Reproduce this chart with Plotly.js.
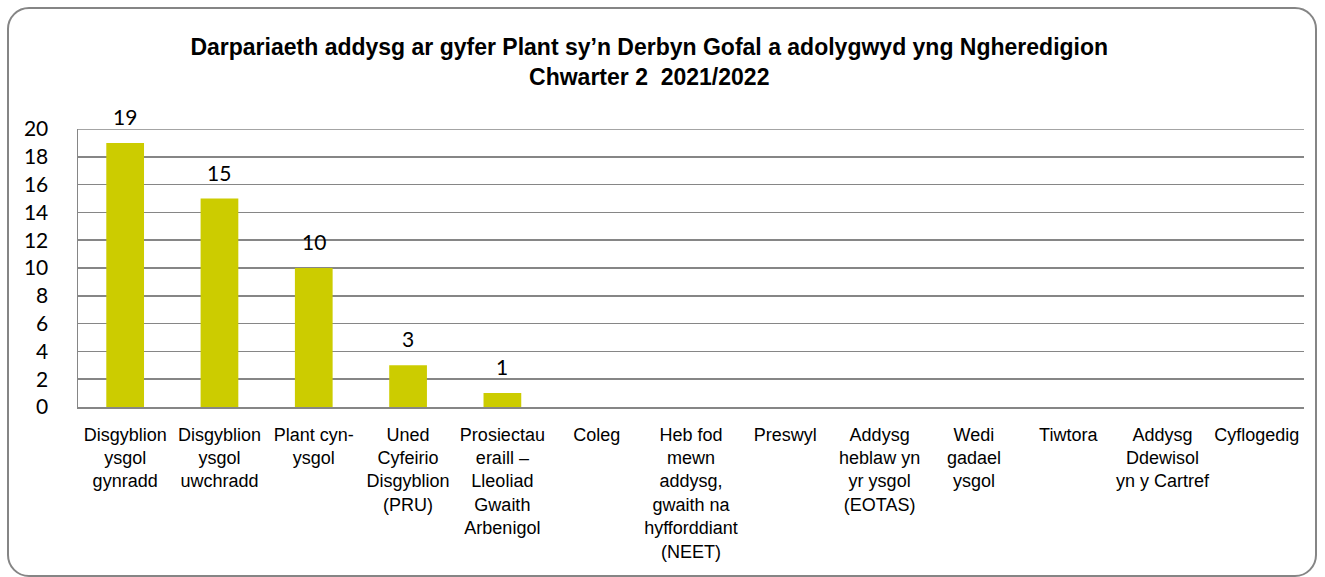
<!DOCTYPE html>
<html>
<head>
<meta charset="utf-8">
<script src="https://cdn.plot.ly/plotly-3.0.1.min.js"></script>
<style>
html,body{margin:0;padding:0;background:#fff;}
#wrap{position:relative;width:1325px;height:577px;}
#chart{width:1325px;height:577px;}
#frame{position:absolute;left:7px;top:7px;width:1306px;height:566px;border:2.5px solid #858585;border-radius:22px;pointer-events:none;}
</style>
</head>
<body>
<div id="wrap"><div id="chart"></div><div id="frame"></div></div>
<script>
const categories = [
  "Disgyblion<br>ysgol<br>gynradd",
  "Disgyblion<br>ysgol<br>uwchradd",
  "Plant cyn-<br>ysgol",
  "Uned<br>Cyfeirio<br>Disgyblion<br>(PRU)",
  "Prosiectau<br>eraill –<br>Lleoliad<br>Gwaith<br>Arbenigol",
  "Coleg",
  "Heb fod<br>mewn<br>addysg,<br>gwaith na<br>hyfforddiant<br>(NEET)",
  "Preswyl",
  "Addysg<br>heblaw yn<br>yr ysgol<br>(EOTAS)",
  "Wedi<br>gadael<br>ysgol",
  "Tiwtora",
  "Addysg<br>Ddewisol<br>yn y Cartref",
  "Cyflogedig"
];
const values = [19, 15, 10, 3, 1, 0, 0, 0, 0, 0, 0, 0, 0];
const yTicks = [0, 2, 4, 6, 8, 10, 12, 14, 16, 18, 20];
const titleLines = [
  "Darpariaeth addysg ar gyfer Plant sy\u2019n Derbyn Gofal a adolygwyd yng Ngheredigion",
  "Chwarter 2  2021/2022"
];

const trace = {
  type: 'bar',
  x: categories.map((c, i) => i),
  y: values,
  marker: {color: '#CCCC00', line: {width: 0}},
  width: 0.4,
  hoverinfo: 'x+y'
};

const annotations = values.map((v, i) => v > 0 ? {
  x: i, y: v, xref: 'x', yref: 'y', text: String(v), showarrow: false,
  yanchor: 'bottom', yshift: 12, font: {family: 'Lato, Carlito, sans-serif', size: 21, color: '#000'}
} : null).filter(a => a);

const yMax = yTicks[yTicks.length - 1];

const layout = {
  width: 1325, height: 577,
  margin: {l: 78, r: 21, t: 129, b: 170},
  paper_bgcolor: '#fff', plot_bgcolor: '#fff',
  showlegend: false,
  title: {
    text: '<b>' + titleLines.join('<br>') + '</b>',
    font: {family: 'Liberation Sans, Arial, sans-serif', size: 23, color: '#000'},
    x: 0.49, xref: 'container', xanchor: 'center',
    y: 1 - 55/577, yref: 'container', yanchor: 'top'
  },
  xaxis: {
    tickmode: 'array', tickvals: categories.map((c, i) => i), ticktext: categories,
    range: [-0.5, categories.length - 0.5],
    showgrid: false, zeroline: false,
    showline: true, linecolor: '#868686', linewidth: 2,
    ticks: '', ticklabelstandoff: 10,
    tickfont: {family: 'Liberation Sans Narrow, Arial Narrow, sans-serif', size: 18, color: '#000'},
    tickangle: 0, fixedrange: true
  },
  yaxis: {
    range: [0, yMax], tickmode: 'array', tickvals: yTicks, ticktext: yTicks.map(String),
    showgrid: true, gridcolor: '#868686', gridwidth: 1.5,
    zeroline: false, showline: true, linecolor: '#868686', linewidth: 1.5,
    ticks: '', ticklabelstandoff: 24,
    tickfont: {family: 'Lato, Carlito, sans-serif', size: 21, color: '#000'},
    fixedrange: true
  },
  shapes: [{
    type: 'line', xref: 'paper', yref: 'y', x0: 0, x1: 1, y0: yMax, y1: yMax,
    line: {color: '#868686', width: 1.5}
  }],
  annotations: annotations
};

Plotly.newPlot('chart', [trace], layout, {displayModeBar: false, staticPlot: true});
</script>
</body>
</html>
